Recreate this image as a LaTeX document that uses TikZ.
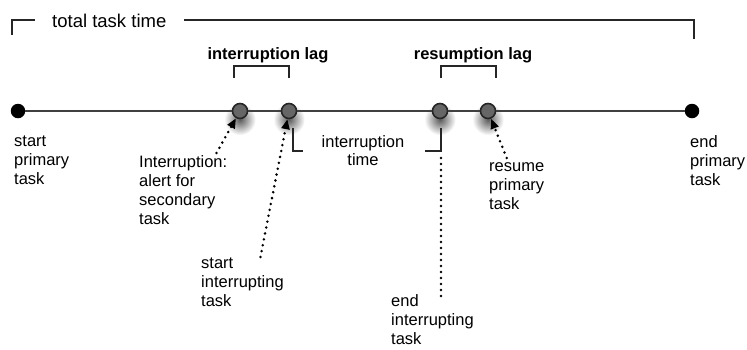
\documentclass[tikz,border=0pt]{standalone}
\usepackage{fontspec}
\setmainfont{Liberation Sans}
\usepackage{tikz}
\usetikzlibrary{arrows.meta,shadows}

\tikzset{
  endpt/.style={circle,fill=black,minimum size=14.5pt,inner sep=0pt},
  halo/.style={general shadow={shadow scale=2.1,shadow yshift=-4pt,inner color=black!65,outer color=white}},
  event/.style={circle,draw=black!85,line width=1.6pt,fill=black!60,minimum size=15pt,inner sep=0pt,halo},
  lbl/.style={anchor=north west,align=left,inner sep=0pt,font=\fontsize{16.5}{19}\selectfont},
  laglbl/.style={anchor=base,inner sep=0pt,font=\fontsize{16.5}{19}\selectfont\bfseries},
  mainline/.style={line width=2.8pt,black!75},
  bracket/.style={line width=2.2pt,black!85},
  dotline/.style={line width=2.8pt,dash pattern=on 0pt off 6pt,line cap=round},
  pointer/.style={dotline,-{Triangle[length=10pt,width=8pt]}}
}

\begin{document}
\begin{tikzpicture}[x=1pt,y=-1pt]
    \useasboundingbox (0,0) rectangle (747,349);

    \node[endpt] (start) at (18,111) {};
    \node[endpt] (end) at (692,111) {};
    \node[event] (alert) at (240,111) {};
    \node[event] (sint) at (289,111) {};
    \node[event] (eint) at (440,111) {};
    \node[event] (res) at (488,111) {};
    \draw[mainline] (start) -- (alert) -- (sint) -- (eint) -- (res) -- (end);

    \node[anchor=base west,inner sep=0pt,font=\fontsize{18.5}{22}\selectfont] (total) at (52,27) {total task time};
    \draw[bracket] (12,35) -- (12,20) -- (35,20);
    \draw[bracket] (184,20) -- (694,20) -- (694,39);

    \node[laglbl] (intlag) at (268,59) {interruption lag};
    \draw[bracket] (234,78) -- (234,66) -- (289,66) -- (289,78);
    \node[laglbl] (reslag) at (473,59) {resumption lag};
    \draw[bracket] (441,78) -- (441,66) -- (496,66) -- (496,78);

    \node[align=center,inner sep=0pt,font=\fontsize{16.5}{18}\selectfont] (inttime) at (363,151) {interruption\\time};
    \draw[bracket] (293,128) -- (293,151) -- (303,151);
    \coordinate (eintmark) at (441,128);
    \draw[bracket] (425,151) -- (441,151) -- (eintmark);

    \node[lbl] (startlbl) at (14,136) {start\\primary\\task};
    \node[lbl] (alertlbl) at (139,155) {Interruption:\\alert for\\secondary\\task};
    \node[lbl] (sintlbl) at (201,258) {start\\interrupting\\task};
    \node[lbl] (eintlbl) at (391,294) {end\\interrupting\\task};
    \node[lbl] (reslbl) at (489,162) {resume\\primary\\task};
    \node[lbl] (endlbl) at (690,135) {end\\primary\\task};

    \draw[pointer] ([xshift=-11pt,yshift=2pt]alertlbl.north east) -- (alert);
    \draw[pointer] ([xshift=18pt,yshift=1pt]sintlbl.north) -- (sint);
    \draw[dotline] ([yshift=-2pt]eintmark |- eintlbl.north) -- ([yshift=-26pt]eintmark);
    \draw[pointer] ([xshift=-10pt,yshift=4pt]reslbl.north) -- (res);

\end{tikzpicture}
\end{document}
